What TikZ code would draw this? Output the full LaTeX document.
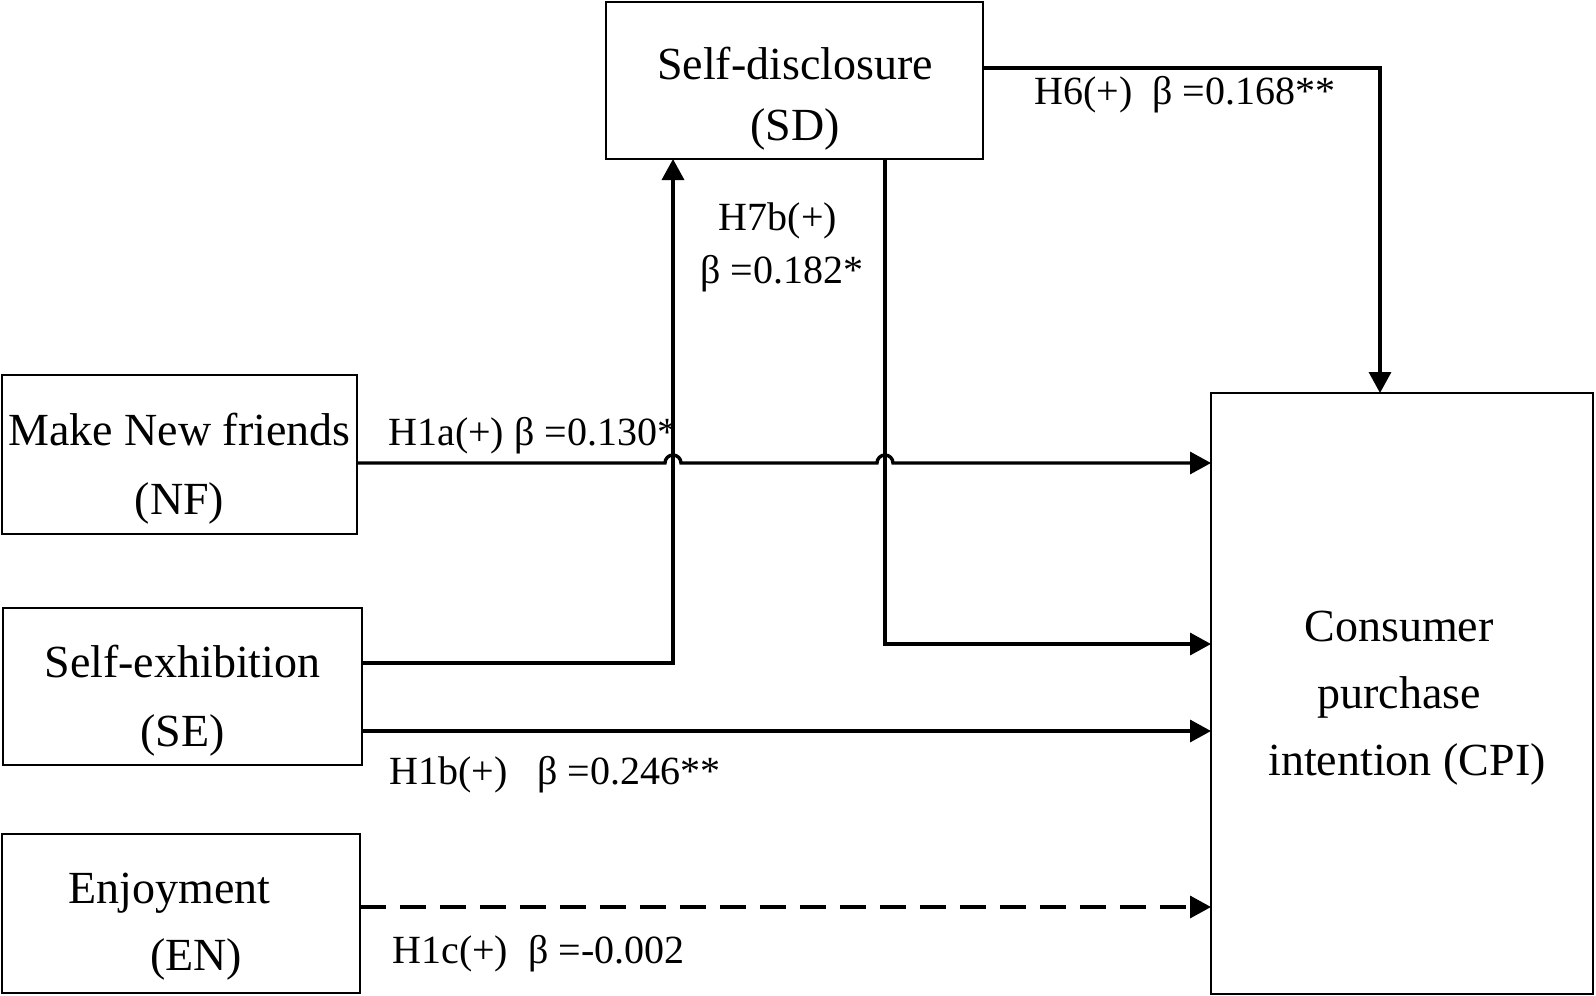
\documentclass[tikz,border=0pt]{standalone}
\usepackage{fontspec}
\setmainfont{Liberation Serif}
\usetikzlibrary{arrows.meta}
\begin{document}
\begin{tikzpicture}[x=0.5pt,y=-0.5pt,
  box/.style={draw,line width=1.4pt,inner sep=0pt,outer sep=0pt},
  boxtext/.style={align=center,inner sep=0pt},
  lab/.style={font=\fontsize{20}{24}\selectfont,inner sep=0pt},
  conn/.style={line width=1.7pt,-{Triangle[length=10.5pt,width=11pt]}},
]
\useasboundingbox (0,0) rectangle (1596,996);
% boxes
\node[box,minimum width=188.5pt,minimum height=78.5pt] (SD) at (794.5,80.5) {};
\node[box,minimum width=177.5pt,minimum height=79.5pt] (NF) at (179.5,454.5) {};
\node[box,minimum width=179.5pt,minimum height=78.5pt] (SE) at (182.5,686.5) {};
\node[box,minimum width=179pt,minimum height=79.5pt] (EN) at (181,913.5) {};
\node[box,minimum width=191pt,minimum height=300.5pt] (CPI) at (1402,693.5) {};
% box texts
\node[boxtext,font=\fontsize{23}{30.5}\selectfont] (SDt) at (795,99) {Self-disclosure\\(SD)};
\node[boxtext,font=\fontsize{23}{34.5}\selectfont] (NFt) at (179.5,469) {Make New friends\\(NF)};
\node[boxtext,font=\fontsize{23}{34.5}\selectfont] (SEt) at (182.5,701) {Self-exhibition\\(SE)};
\node[boxtext,font=\fontsize{23}{33.5}\selectfont] (ENt) at (181,927) {Enjoyment\hspace*{11.5pt}\\\hspace*{15pt}(EN)};
\node[boxtext,font=\fontsize{23}{33.5}\selectfont] (CPIt) at (1399,698) {Consumer\\purchase\\\hspace*{8pt}intention (CPI)};
% coordinates for connector levels
\coordinate (yNF) at (0,463);
\coordinate (ySEa) at (0,663);
\coordinate (ySD) at (0,644);
\coordinate (ySEb) at (0,731);
\coordinate (yEN) at (0,907);
\coordinate (yH) at (0,68);
\coordinate (xA) at (673,0);
\coordinate (xB) at (885,0);
\coordinate (xC) at (1380,0);
% connectors
\draw[conn] (SE.east |- ySEa) -- (xA |- ySEa) -- (xA |- SD.south);
\draw[conn] (xB |- SD.south) -- (xB |- ySD) -- (CPI.west |- ySD);
\draw[conn] (SD.east |- yH) -- (xC |- yH) -- (xC |- CPI.north);
\draw[conn] (NF.east |- yNF) -- (665,463) arc[start angle=180,end angle=0,radius=4pt]
  -- (877,463) arc[start angle=180,end angle=0,radius=4pt] -- (CPI.west |- yNF);
\draw[conn] (SE.east |- ySEb) -- (CPI.west |- ySEb);
\draw[conn,dash pattern=on 13pt off 7pt] (EN.east |- yEN) -- (CPI.west |- yEN);
% labels
\node[lab,anchor=base west] (l1a) at (388,445) {H1a(+) β =0.130*};
\node[lab,anchor=base] (l7a) at (778,230) {H7b(+)};
\node[lab,anchor=base] (l7b) at (782,283) {β =0.182*};
\node[lab,anchor=base west] (l6) at (1034,104) {H6(+)\ \ β =0.168**};
\node[lab,anchor=base west] (l1b) at (389,784) {H1b(+)\ \ \ β =0.246**};
\node[lab,anchor=base west] (l1c) at (392,963) {H1c(+)\ \ β =-0.002};
\end{tikzpicture}
\end{document}
